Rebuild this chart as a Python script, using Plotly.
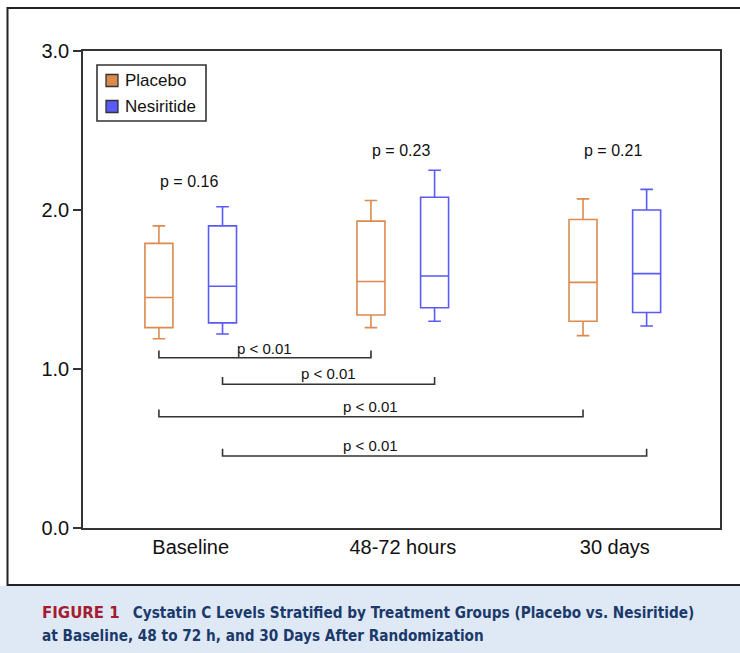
import plotly.graph_objects as go

# ---------------- data ----------------
categories = ["Baseline", "48-72 hours", "30 days"]
series_names = ["Placebo", "Nesiritide"]

placebo_lower = [1.19, 1.26, 1.21]
placebo_q1 = [1.26, 1.34, 1.30]
placebo_median = [1.45, 1.55, 1.545]
placebo_q3 = [1.79, 1.93, 1.94]
placebo_upper = [1.90, 2.06, 2.07]

nesiritide_lower = [1.22, 1.30, 1.27]
nesiritide_q1 = [1.29, 1.385, 1.355]
nesiritide_median = [1.52, 1.585, 1.60]
nesiritide_q3 = [1.90, 2.08, 2.00]
nesiritide_upper = [2.02, 2.25, 2.13]

between_p = ["p = 0.16", "p = 0.23", "p = 0.21"]

cmp_series = ["Placebo", "Nesiritide", "Placebo", "Nesiritide"]
cmp_from = ["Baseline", "Baseline", "Baseline", "Baseline"]
cmp_to = ["48-72 hours", "48-72 hours", "30 days", "30 days"]
cmp_p = ["p < 0.01", "p < 0.01", "p < 0.01", "p < 0.01"]

y_ticks = [0.0, 1.0, 2.0, 3.0]

# ---------------- style ----------------
ORANGE = "#dc8a4f"
BLUE = "#5a5af5"
DARK = "#333333"
offsets = {"Placebo": -0.15, "Nesiritide": 0.15}
colors = {"Placebo": ORANGE, "Nesiritide": BLUE}
FONT = "Liberation Sans, Arial, Helvetica, sans-serif"

L, R, T, B = 83, 720, 51, 528
W, H = 740, 653
def px(xp):
    return (xp - L) / (R - L)
def py(yp):
    return (B - yp) / (B - T)

fig = go.Figure()

stats = {
    "Placebo": (placebo_lower, placebo_q1, placebo_median, placebo_q3, placebo_upper),
    "Nesiritide": (nesiritide_lower, nesiritide_q1, nesiritide_median, nesiritide_q3, nesiritide_upper),
}

for name in series_names:
    lo, q1, med, q3, up = stats[name]
    xs = [i + offsets[name] for i in range(len(categories))]
    fig.add_trace(go.Box(
        x=xs, lowerfence=lo, q1=q1, median=med, q3=q3, upperfence=up,
        width=0.132, whiskerwidth=0.45, boxpoints=False,
        fillcolor="rgba(255,255,255,0)",
        line=dict(color=colors[name], width=1.6),
        name=name, showlegend=False, hoverinfo="skip",
    ))

# manual legend
leg_x0, leg_x1, leg_y0, leg_y1 = 97, 206, 65, 121
fig.add_shape(type="rect", xref="paper", yref="paper",
              x0=px(leg_x0), x1=px(leg_x1), y0=py(leg_y1), y1=py(leg_y0),
              line=dict(color=DARK, width=1.6), fillcolor="white")
leg_rows = [80.5, 106.5]
for k, name in enumerate(series_names):
    yc = leg_rows[k]
    fig.add_shape(type="rect", xref="paper", yref="paper",
                  x0=px(106), x1=px(118), y0=py(yc + 6), y1=py(yc - 6),
                  line=dict(color=DARK, width=1.3), fillcolor=colors[name])
    fig.add_annotation(xref="paper", yref="paper", x=px(123), y=py(yc),
                       text=name, showarrow=False, xanchor="left", yanchor="middle",
                       font=dict(size=17, color="#111", family=FONT))

# between-group p-values
between_y = [2.178, 2.377, 2.377]
for i, txt in enumerate(between_p):
    fig.add_annotation(x=i - 0.01, y=between_y[i], text=txt, showarrow=False,
                       font=dict(size=16, color="#111", family=FONT),
                       xanchor="center", yanchor="middle")

# within-group comparison brackets
bracket_y = [1.071, 0.904, 0.700, 0.453]
tick_h = 0.045
label_y = [1.13, 0.969, 0.767, 0.522]
for j in range(len(cmp_series)):
    s = cmp_series[j]
    x1 = categories.index(cmp_from[j]) + offsets[s]
    x2 = categories.index(cmp_to[j]) + offsets[s]
    y = bracket_y[j]
    fig.add_shape(type="path",
                  path=f"M {x1},{y + tick_h} L {x1},{y} L {x2},{y} L {x2},{y + tick_h}",
                  line=dict(color=DARK, width=1.6), xref="x", yref="y")
    if j == 3:
        lx = (categories.index(cmp_from[2]) + offsets[cmp_series[2]] +
              categories.index(cmp_to[2]) + offsets[cmp_series[2]]) / 2
    else:
        lx = (x1 + x2) / 2
    fig.add_annotation(x=lx, y=label_y[j], text=cmp_p[j], showarrow=False,
                       font=dict(size=15, color="#111", family=FONT),
                       xanchor="center", yanchor="middle")

# ---------------- frame & caption ----------------
fig.add_shape(type="rect", xref="paper", yref="paper",
              x0=px(-5), x1=px(W + 5), y0=py(586), y1=py(H + 5),
              fillcolor="#dfe9f5", line=dict(width=0), layer="below")
fig.add_shape(type="path", xref="paper", yref="paper",
              path=f"M {px(W+5)},{py(8)} L {px(7.5)},{py(8)} L {px(7.5)},{py(585)} L {px(W+5)},{py(585)}",
              line=dict(color="#222", width=2))

CAP_FONT = "DejaVu Sans Condensed, Liberation Sans Narrow, sans-serif"
fig.add_annotation(xref="paper", yref="paper", x=px(40), y=py(613),
                   xanchor="left", yanchor="middle", showarrow=False,
                   text="<span style='color:#a51c30;font-family:DejaVu Sans;font-size:15px'><b>FIGURE 1</b></span>"
                        "   <b>Cystatin C Levels Stratified by Treatment Groups (Placebo vs. Nesiritide)</b>",
                   font=dict(size=15.2, color="#1b3a6b", family=CAP_FONT))
fig.add_annotation(xref="paper", yref="paper", x=px(40), y=py(636),
                   xanchor="left", yanchor="middle", showarrow=False,
                   text="<b>at Baseline, 48 to 72 h, and 30 Days After Randomization</b>",
                   font=dict(size=15.2, color="#1b3a6b", family=CAP_FONT))

fig.update_layout(
    width=W, height=H,
    margin=dict(l=L, r=W - R, t=T, b=H - B, pad=0),
    paper_bgcolor="white", plot_bgcolor="white",
    font=dict(family=FONT, color="#111"),
    showlegend=False,
)
fig.update_xaxes(range=[-0.508, 2.496], tickvals=list(range(len(categories))),
                 ticktext=categories, ticks="", showline=True, mirror=True,
                 linecolor=DARK, linewidth=1.6, showgrid=False, zeroline=False,
                 tickfont=dict(size=20, color="#111", family=FONT))
fig.update_yaxes(range=[0, 3], tickvals=y_ticks, tickformat=".1f",
                 ticks="outside", ticklen=8, tickwidth=1.6, tickcolor=DARK,
                 showline=True, mirror=True, linecolor=DARK, linewidth=1.6,
                 showgrid=False, zeroline=False,
                 tickfont=dict(size=20, color="#111", family=FONT))

fig.write_html("out.html", config={"displayModeBar": False},
               post_script="document.body.style.margin='0';document.body.style.overflow='hidden';")
